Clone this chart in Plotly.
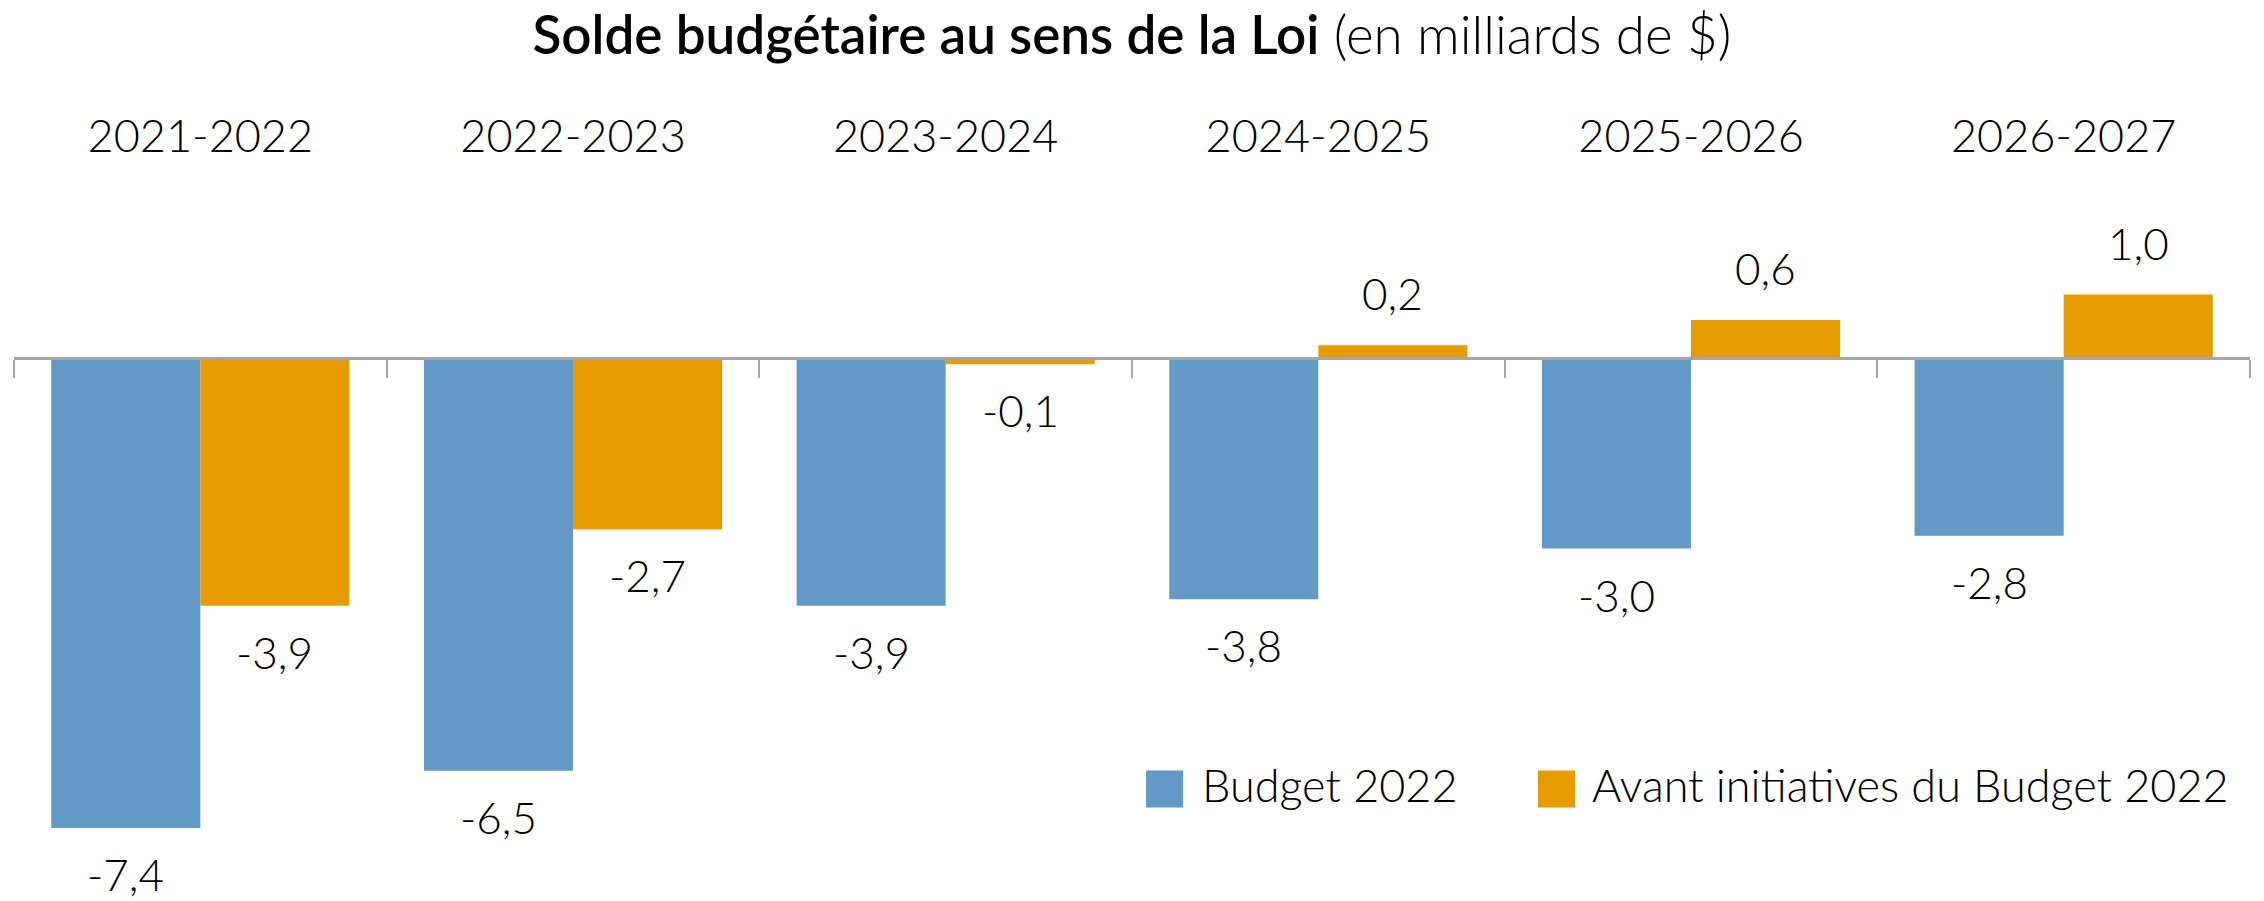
import plotly.graph_objects as go

# ---- data ----
categories = ["2021-2022", "2022-2023", "2023-2024", "2024-2025", "2025-2026", "2026-2027"]
budget_2022 = [-7.4, -6.5, -3.9, -3.8, -3.0, -2.8]
avant_initiatives = [-3.9, -2.7, -0.1, 0.2, 0.6, 1.0]
series_names = ["Budget 2022", "Avant initiatives du Budget 2022"]
title_main = "Solde budgétaire au sens de la Loi"
title_unit = "(en milliards de $)"

# ---- style ----
W, H = 2264, 901
ML, MR, MT, MB = 14, 14, 170, 20
BLUE = "#6399C7"
ORANGE = "#E69C00"
AXIS = "#A6A6A6"
FONT = "Lato"
FS_LABEL = 44
FS_CAT = 45
FS_LEG = 45

plot_w = W - ML - MR
plot_h = H - MT - MB
zero_px = 358
k = 63.5  # px per unit
ymax = (zero_px - MT) / k
ymin = -((H - MB) - zero_px) / k
zero_pos = (0 - ymin) / (ymax - ymin)


def fmt(v):
    return f"{v:.1f}".replace(".", ",")


def px_x(p):
    return (p - ML) / plot_w


def px_y(p):
    return ((H - MB) - p) / plot_h


fig = go.Figure()
series = [budget_2022, avant_initiatives]
colors = [BLUE, ORANGE]
for name, vals, col in zip(series_names, series, colors):
    fig.add_trace(go.Bar(
        x=categories, y=vals, name=name, marker=dict(color=col, line=dict(width=0)),
        showlegend=False, hoverinfo="x+y",
    ))

# invisible trace to carry the top label axis
fig.add_trace(go.Scatter(
    x=categories, y=[0] * len(categories), xaxis="x2", mode="markers",
    marker=dict(opacity=0), showlegend=False, hoverinfo="skip",
))

# data labels
cat_w = plot_w / len(categories)
bargap = 0.2
bar_w = cat_w * (1 - bargap) / 2
for si, vals in enumerate(series):
    xshift = (si - 0.5) * bar_w
    for c, v in zip(categories, vals):
        fig.add_annotation(
            x=c, y=v, xref="x", yref="y", text=fmt(v), showarrow=False,
            xshift=xshift, yshift=(52 if v >= 0 else -46), borderpad=0,
            font=dict(family=FONT, size=FS_LABEL, color="#000000", weight=300),
            xanchor="center", yanchor="middle",
        )

# custom legend
legend_items = [
    (series_names[0], BLUE, 1146, 1200),
    (series_names[1], ORANGE, 1538, 1590),
]
sq = 37
leg_cy = 789
for name, col, sx, tx in legend_items:
    fig.add_shape(
        type="rect", xref="paper", yref="paper",
        x0=px_x(sx), x1=px_x(sx + sq), y0=px_y(leg_cy + sq / 2), y1=px_y(leg_cy - sq / 2),
        fillcolor=col, line=dict(width=0),
    )
    fig.add_annotation(
        x=px_x(tx), y=px_y(leg_cy - 4), xref="paper", yref="paper", text=name,
        showarrow=False, xanchor="left", yanchor="middle",
        font=dict(family=FONT, size=FS_LEG, color="#000000", weight=300),
    )

fig.update_layout(
    width=W, height=H,
    margin=dict(l=ML, r=MR, t=MT, b=MB),
    paper_bgcolor="white", plot_bgcolor="white",
    barmode="group", bargap=bargap, bargroupgap=0,
    title=dict(
        text=f"<span style='font-weight:600'>{title_main}</span> {title_unit}",
        x=0.5, xanchor="center", y=1 - 35 / H, yanchor="middle",
        font=dict(family=FONT, size=53, color="#000000", weight=300),
    ),
    xaxis=dict(
        type="category", categoryorder="array", categoryarray=categories,
        range=[-0.5, len(categories) - 0.5],
        anchor="free", position=zero_pos, side="bottom",
        showline=True, linecolor=AXIS, linewidth=2.5,
        ticks="outside", tickson="boundaries", ticklen=18, tickcolor=AXIS, tickwidth=1.5,
        showticklabels=False, showgrid=False, zeroline=False,
    ),
    xaxis2=dict(
        type="category", categoryorder="array", categoryarray=categories,
        range=[-0.5, len(categories) - 0.5],
        overlaying="x", side="top", anchor="y",
        showline=False, ticks="", showgrid=False, zeroline=False,
        tickfont=dict(family=FONT, size=FS_CAT, color="#000000", weight=300),
        ticklabelstandoff=8,
    ),
    yaxis=dict(
        range=[ymin, ymax], visible=False, showgrid=False, zeroline=False,
    ),
)

fig.write_html(
    "out.html",
    config={"displayModeBar": False},
    post_script="document.body.style.margin='0';document.body.style.overflow='hidden';",
)
